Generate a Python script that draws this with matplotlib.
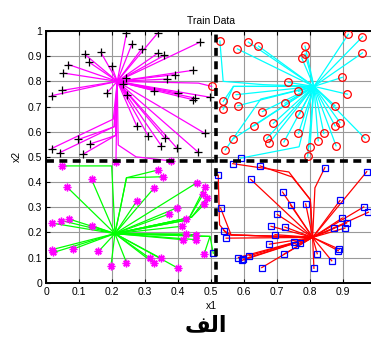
import matplotlib
matplotlib.use("Agg")
import matplotlib.pyplot as plt

# cluster centres (x1, x2)
center_tl = (0.215, 0.800)
center_tr = (0.811, 0.780)
center_bl = (0.208, 0.195)
center_br = (0.807, 0.180)

# class "+" samples (upper left)
plus_x = [0.016, 0.041, 0.112, 0.097, 0.132, 0.016, 0.048, 0.052, 0.067, 0.117,
          0.130, 0.165, 0.198, 0.183, 0.231, 0.243, 0.259, 0.289, 0.243, 0.245,
          0.337, 0.337, 0.357, 0.326, 0.274, 0.309, 0.349, 0.360, 0.395, 0.365,
          0.390, 0.400, 0.445, 0.466, 0.445, 0.452, 0.481, 0.459, 0.496]
plus_y = [0.533, 0.517, 0.511, 0.569, 0.551, 0.743, 0.764, 0.833, 0.867, 0.907,
          0.876, 0.916, 0.860, 0.753, 0.791, 0.991, 0.947, 0.929, 0.813, 0.747,
          0.991, 0.911, 0.903, 0.763, 0.623, 0.583, 0.543, 0.573, 0.536, 0.809,
          0.827, 0.753, 0.844, 0.956, 0.727, 0.733, 0.593, 0.520, 0.737]

# class "o" samples (upper right)
circ_x = [0.526, 0.612, 0.579, 0.643, 0.784, 0.784, 0.774, 0.915, 0.958, 0.958,
          0.897, 0.912, 0.733, 0.764, 0.575, 0.536, 0.536, 0.580, 0.655, 0.723,
          0.875, 0.767, 0.688, 0.629, 0.890, 0.875, 0.764, 0.841, 0.966, 0.668,
          0.676, 0.720, 0.565, 0.542, 0.824, 0.878, 0.799, 0.792, 0.501]
circ_y = [0.960, 0.956, 0.929, 0.940, 0.940, 0.909, 0.893, 0.987, 0.977, 0.913,
          0.816, 0.749, 0.796, 0.760, 0.747, 0.720, 0.689, 0.703, 0.680, 0.713,
          0.703, 0.669, 0.633, 0.623, 0.636, 0.623, 0.593, 0.593, 0.573, 0.573,
          0.556, 0.559, 0.571, 0.527, 0.564, 0.544, 0.540, 0.503, 0.780]

# class "*" samples (lower left)
star_x = [0.048, 0.137, 0.062, 0.339, 0.355, 0.327, 0.274, 0.456, 0.481, 0.476,
          0.486, 0.478, 0.395, 0.373, 0.423, 0.410, 0.016, 0.046, 0.069, 0.137,
          0.423, 0.455, 0.413, 0.455, 0.478, 0.016, 0.021, 0.080, 0.158, 0.196,
          0.243, 0.314, 0.326, 0.347, 0.400, 0.211, 0.377]
star_y = [0.464, 0.411, 0.381, 0.448, 0.421, 0.377, 0.324, 0.397, 0.381, 0.353,
          0.337, 0.311, 0.297, 0.273, 0.255, 0.224, 0.237, 0.247, 0.253, 0.227,
          0.193, 0.191, 0.171, 0.171, 0.113, 0.131, 0.120, 0.133, 0.124, 0.067,
          0.080, 0.097, 0.077, 0.097, 0.057, 0.481, 0.484]

# class "square" samples (lower right)
sq_x = [0.589, 0.565, 0.648, 0.844, 0.971, 0.521, 0.619, 0.716, 0.741, 0.786,
        0.890, 0.528, 0.962, 0.976, 0.700, 0.897, 0.910, 0.872, 0.905, 0.681,
        0.723, 0.693, 0.538, 0.545, 0.676, 0.751, 0.770, 0.753, 0.888, 0.885,
        0.720, 0.821, 0.582, 0.597, 0.594, 0.615, 0.865, 0.653, 0.811, 0.506]
sq_y = [0.495, 0.473, 0.464, 0.457, 0.441, 0.427, 0.411, 0.360, 0.307, 0.313,
        0.327, 0.297, 0.301, 0.280, 0.271, 0.257, 0.237, 0.217, 0.217, 0.224,
        0.221, 0.191, 0.207, 0.177, 0.153, 0.160, 0.157, 0.148, 0.133, 0.127,
        0.113, 0.115, 0.100, 0.093, 0.089, 0.107, 0.087, 0.060, 0.057, 0.117]

# edges of each tree: (end point, bend points between centre and end)
edges_tl = {
    "centre": center_tl,
    "ends": list(zip(plus_x, plus_y)) + [(0.211, 0.481), (0.377, 0.484), (0.501, 0.780)],
    "bends": {0: [(0.203, 0.650)], 1: [(0.205, 0.620)], 3: [(0.207, 0.620)],
              4: [(0.210, 0.585)], 2: [(0.210, 0.585)],
              40: [(0.218, 0.547), (0.272, 0.500)],
              41: [(0.461, 0.793)]},
    "color": "magenta",
}
edges_tr = {
    "centre": center_tr,
    "ends": list(zip(circ_x[:-1], circ_y[:-1])) + [(0.589, 0.495)],
    "bends": {0: [(0.657, 0.787), (0.536, 0.800)],
              15: [(0.567, 0.780)], 16: [(0.567, 0.780)],
              33: [(0.650, 0.730)],
              38: [(0.766, 0.540)]},
    "color": "cyan",
}
edges_bl = {
    "centre": center_bl,
    "ends": list(zip(star_x[:-2], star_y[:-2])) + [(0.506, 0.117)],
    "bends": {0: [(0.203, 0.337), (0.198, 0.464)],
              3: [(0.225, 0.300), (0.243, 0.417)],
              4: [(0.225, 0.300), (0.243, 0.417)],
              8: [(0.430, 0.250)], 9: [(0.430, 0.250)], 10: [(0.440, 0.260)],
              11: [(0.440, 0.260)],
              24: [(0.496, 0.184)], 35: [(0.496, 0.184)]},
    "color": "lime",
}
edges_br = {
    "centre": center_br,
    "ends": list(zip(sq_x[1:-1], sq_y[1:-1])),
    "bends": {0: [(0.800, 0.330), (0.735, 0.440)],
              1: [(0.800, 0.330), (0.745, 0.420)],
              2: [(0.814, 0.377)],
              4: [(0.550, 0.190), (0.525, 0.230)],
              10: [(0.560, 0.190)], 21: [(0.560, 0.190)]},
    "color": "red",
}


def draw_tree(ax, tree):
    cx, cy = tree["centre"]
    for i, (ex, ey) in enumerate(tree["ends"]):
        path = [(cx, cy)] + tree["bends"].get(i, []) + [(ex, ey)]
        xs, ys = zip(*path)
        ax.plot(xs, ys, color=tree["color"], lw=0.9, zorder=2)


def main():
    plt.rcParams["font.family"] = ["Liberation Sans", "DejaVu Sans"]
    fig = plt.figure(figsize=(3.71, 3.41), dpi=100)
    ax = fig.add_axes([0.1248, 0.171, 0.8895, 0.738])

    for tree in (edges_tl, edges_tr, edges_bl, edges_br):
        draw_tree(ax, tree)

    ax.plot(plus_x, plus_y, "+", color="black", ms=6, mew=0.9, zorder=3)
    ax.plot(circ_x, circ_y, "o", mfc="none", mec="red", ms=5.5, mew=0.9, zorder=3)
    # asterisk marker, 8 arms
    ax.plot(star_x, star_y, ls="none", marker=(8, 2, 0), color="magenta",
            ms=5.5, mew=1.0, zorder=3)
    ax.plot(sq_x, sq_y, "s", mfc="none", mec="blue", ms=5, mew=0.9, zorder=3)

    # decision boundaries
    ax.axvline(0.515, color="black", lw=2.6, ls=(0, (2.2, 1.5)), zorder=4)
    ax.axhline(0.483, color="black", lw=2.6, ls=(0, (2.2, 1.5)), zorder=4)

    ax.set_xlim(0, 1)
    ax.set_ylim(0, 1)
    ax.set_xticks([i / 10 for i in range(10)])
    ax.set_xticklabels(["0"] + [f"0.{i}" for i in range(1, 10)])
    ax.set_yticks([i / 10 for i in range(11)])
    ax.set_yticklabels(["0"] + [f"0.{i}" for i in range(1, 10)] + ["1"])
    ax.tick_params(direction="in", length=3, labelsize=7.5, top=True, right=True,
                   pad=3)
    ax.grid(True, color="#999999", lw=0.8)
    ax.set_axisbelow(True)
    for sp in ax.spines.values():
        sp.set_linewidth(1.4)

    ax.set_title("Train Data", fontsize=7.5, pad=5)
    ax.set_xlabel("x1", fontsize=7.5, labelpad=3)
    ax.set_ylabel("x2", fontsize=7.5, labelpad=4)

    # caption (pre-shaped Arabic letters, visual order)
    fig.text(0.556, 0.045, "\ufed2\ufedf\ufe8d", ha="center", va="center",
             fontsize=16, fontweight="bold", family=["DejaVu Sans"])

    fig.savefig("out.png", dpi=100)


if __name__ == "__main__":
    main()
